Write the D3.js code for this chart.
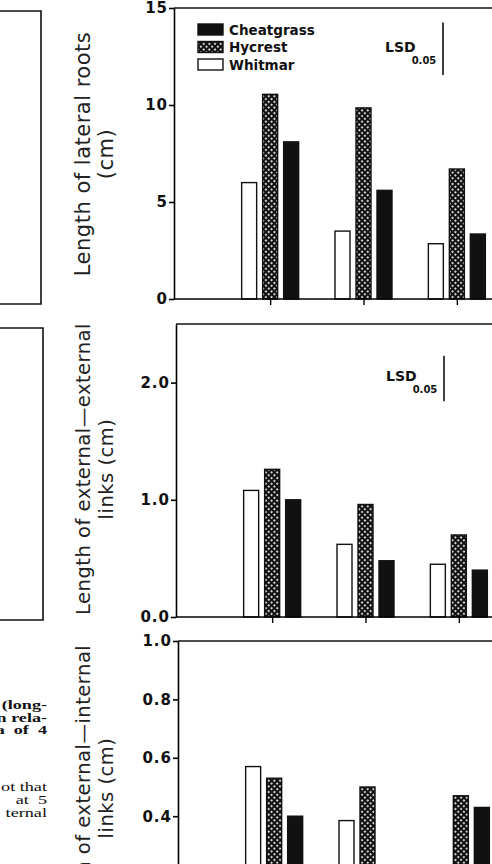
<!DOCTYPE html>
<html>
<head>
<meta charset="utf-8">
<script src="https://cdn.jsdelivr.net/npm/d3@7"></script>
<style>
  body { margin: 0; background: #fff; }
  svg { display: block; }
</style>
</head>
<body>
<svg id="chart" width="492" height="864"></svg>
<script>
// groups along x (labels are cut off in the scan)
var groups = ['1', '2', '3']
var series = ['Whitmar', 'Hycrest', 'Cheatgrass']
var legendOrder = ['Cheatgrass', 'Hycrest', 'Whitmar']

// panel 1: length of lateral roots (cm)
var lateralWhitmar = [6.0, 3.5, 2.85]
var lateralHycrest = [10.55, 9.85, 6.7]
var lateralCheat = [8.1, 5.6, 3.35]
var lateralTicks = [0, 5, 10, 15]

// panel 2: external-external links (cm)
var eeWhitmar = [1.08, 0.62, 0.45]
var eeHycrest = [1.26, 0.96, 0.70]
var eeCheat = [1.0, 0.48, 0.40]
var eeTicks = [0, 1, 2]

// panel 3: external-internal links (cm)
var eiWhitmar = [0.57, 0.385, 0.2]
var eiHycrest = [0.53, 0.50, 0.47]
var eiCheat = [0.40, 0.2, 0.43]
var eiTicks = [0, 0.2, 0.4, 0.6, 0.8, 1.0]

var lsdValues = [2.7, 0.39]

var svg = d3.select('#chart')

var defs = svg.append('defs')
var pat = defs.append('pattern')
  .attr('id', 'hatch')
  .attr('patternUnits', 'userSpaceOnUse')
  .attr('width', 4).attr('height', 4)
  .attr('patternTransform', 'rotate(45)')
pat.append('rect').attr('width', 4).attr('height', 4).attr('fill', '#111')
pat.append('rect').attr('x', 1.1).attr('y', 1.1).attr('width', 2).attr('height', 2).attr('rx', 0.8).attr('fill', '#fff')

var fills = { Whitmar: '#fff', Hycrest: 'url(#hatch)', Cheatgrass: '#111' }

var panels = [
  { title: ['Length of lateral roots', '(cm)'], vals: [lateralWhitmar, lateralHycrest, lateralCheat],
    dom: [0, 15], ticks: lateralTicks, fmt: d3.format('d'), x0: 174, y0: 299, y1: 8,
    titleY: 154, titleSize: 21, lsd: lsdValues[0], lsdTop: 14.25, lsdX: 443, legend: true },
  { title: ['Length of external\u2014external', 'links (cm)'], vals: [eeWhitmar, eeHycrest, eeCheat],
    dom: [0, 2.5], ticks: eeTicks, fmt: d3.format('.1f'), x0: 176, y0: 617, y1: 324,
    titleY: 469, titleSize: 19.5, lsd: lsdValues[1], lsdTop: 2.23, lsdX: 444 },
  { title: ['Length of external\u2014internal', 'links (cm)'], vals: [eiWhitmar, eiHycrest, eiCheat],
    dom: [0, 1.0], ticks: eiTicks, fmt: d3.format('.1f'), x0: 178, y0: 933, y1: 641,
    titleY: 788, titleSize: 19.5 }
]

var inner = d3.scaleBand().domain(series).range([-28.5, 28.5]).paddingInner(0.286)

panels.forEach(function (p) {
  var g = svg.append('g')
  var y = d3.scaleLinear().domain(p.dom).range([p.y0, p.y1])
  var x = d3.scalePoint().domain(groups).range([p.x0, p.x0 + 379]).padding(1.03)

  // bars
  series.forEach(function (s, si) {
    g.selectAll('rect.' + s)
      .data(p.vals[si])
      .enter()
      .append('rect')
      .attr('x', function (d, i) { return x(groups[i]) + inner(s) })
      .attr('y', function (d) { return y(d) })
      .attr('width', inner.bandwidth())
      .attr('height', function (d) { return y(0) - y(d) })
      .attr('fill', fills[s])
      .attr('stroke', '#111')
      .attr('stroke-width', 1.4)
  })

  // frame: top line and x axis
  g.append('line').attr('x1', p.x0).attr('x2', 500).attr('y1', y(p.dom[1])).attr('y2', y(p.dom[1]))
    .attr('stroke', '#111').attr('stroke-width', 1.6)
  var xa = g.append('g').attr('transform', 'translate(0,' + y(0) + ')')
    .call(d3.axisBottom(x).tickSize(6).tickFormat(''))
  xa.select('.domain').attr('d', 'M' + p.x0 + ',0H500').attr('stroke-width', 1.6)
  xa.selectAll('.tick line').attr('stroke-width', 1.4)

  var ya = g.append('g').attr('transform', 'translate(' + p.x0 + ',0)')
    .call(d3.axisLeft(y).tickValues(p.ticks).tickSize(5).tickSizeOuter(0).tickFormat(p.fmt))
  ya.select('.domain').attr('stroke-width', 1.6)
  ya.selectAll('.tick line').attr('stroke-width', 1.6)
  ya.selectAll('.tick text')
    .attr('font-family', 'DejaVu Sans, sans-serif')
    .attr('font-weight', 'bold')
    .attr('font-size', 15)
    .attr('letter-spacing', 1)
    .attr('x', -6)
    .attr('fill', '#111')

  // axis title
  var t = g.append('text')
    .attr('transform', 'translate(90,' + p.titleY + ') rotate(-90)')
    .attr('text-anchor', 'middle')
    .attr('font-family', 'DejaVu Sans, sans-serif')
    .attr('font-size', p.titleSize)
    .attr('letter-spacing', 0.5)
    .attr('fill', '#222')
  t.append('tspan').attr('x', 0).attr('y', 0).text(p.title[0])
  t.append('tspan').attr('x', 0).attr('y', 23).text(p.title[1])

  // LSD bar
  if (p.lsd) {
    g.append('line').attr('x1', p.lsdX).attr('x2', p.lsdX)
      .attr('y1', y(p.lsdTop)).attr('y2', y(p.lsdTop - p.lsd))
      .attr('stroke', '#111').attr('stroke-width', 1.6)
    var lt = g.append('text')
      .attr('x', p.lsdX - 58).attr('y', y(p.lsdTop - p.lsd / 2) + 3)
      .attr('font-family', 'DejaVu Sans, sans-serif')
      .attr('font-weight', 'bold')
      .attr('fill', '#111')
    lt.append('tspan').attr('font-size', 14).text('LSD')
    lt.append('tspan').attr('font-size', 10).attr('dy', 12).attr('dx', -4).text('0.05')
  }

  if (p.legend) {
    var lg = g.append('g').attr('transform', 'translate(198,24)')
    legendOrder.forEach(function (s, i) {
      lg.append('rect').attr('x', 0).attr('y', i * 17.5).attr('width', 25).attr('height', 11)
        .attr('fill', fills[s]).attr('stroke', '#111').attr('stroke-width', 1.4)
      lg.append('text').attr('x', 31).attr('y', i * 17.5 + 10.5)
        .attr('font-family', 'DejaVu Sans, sans-serif')
        .attr('font-weight', 'bold').attr('font-size', 13.5)
        .attr('fill', '#111').text(s)
    })
  }
})

// neighbouring figure and text on the scanned page (left margin)
var edge = svg.append('g').attr('stroke', '#111').attr('stroke-width', 1.6).attr('fill', 'none')
edge.append('path').attr('d', 'M0,11H41V304H0')
edge.append('path').attr('d', 'M0,328H43V620H0')

var para1 = ['(long-', 'n rela-', 'a  of  4']
var para2 = ['ot that', 'at  5', 'ternal']
svg.append('g').selectAll('text').data(para1).enter().append('text')
  .attr('transform', function (d, i) { return 'translate(47,' + (709 + i * 12.5) + ') scale(1.45,1)' })
  .attr('text-anchor', 'end').attr('font-family', 'Liberation Serif, serif')
  .attr('font-weight', 'bold').attr('font-size', 12.5).attr('fill', '#111')
  .style('white-space', 'pre').text(function (d) { return d })
svg.append('g').selectAll('text').data(para2).enter().append('text')
  .attr('transform', function (d, i) { return 'translate(47,' + (791 + i * 13) + ') scale(1.4,1)' })
  .attr('text-anchor', 'end').attr('font-family', 'Liberation Serif, serif')
  .attr('font-size', 13).attr('fill', '#111')
  .style('white-space', 'pre').text(function (d) { return d })
</script>
</body>
</html>
